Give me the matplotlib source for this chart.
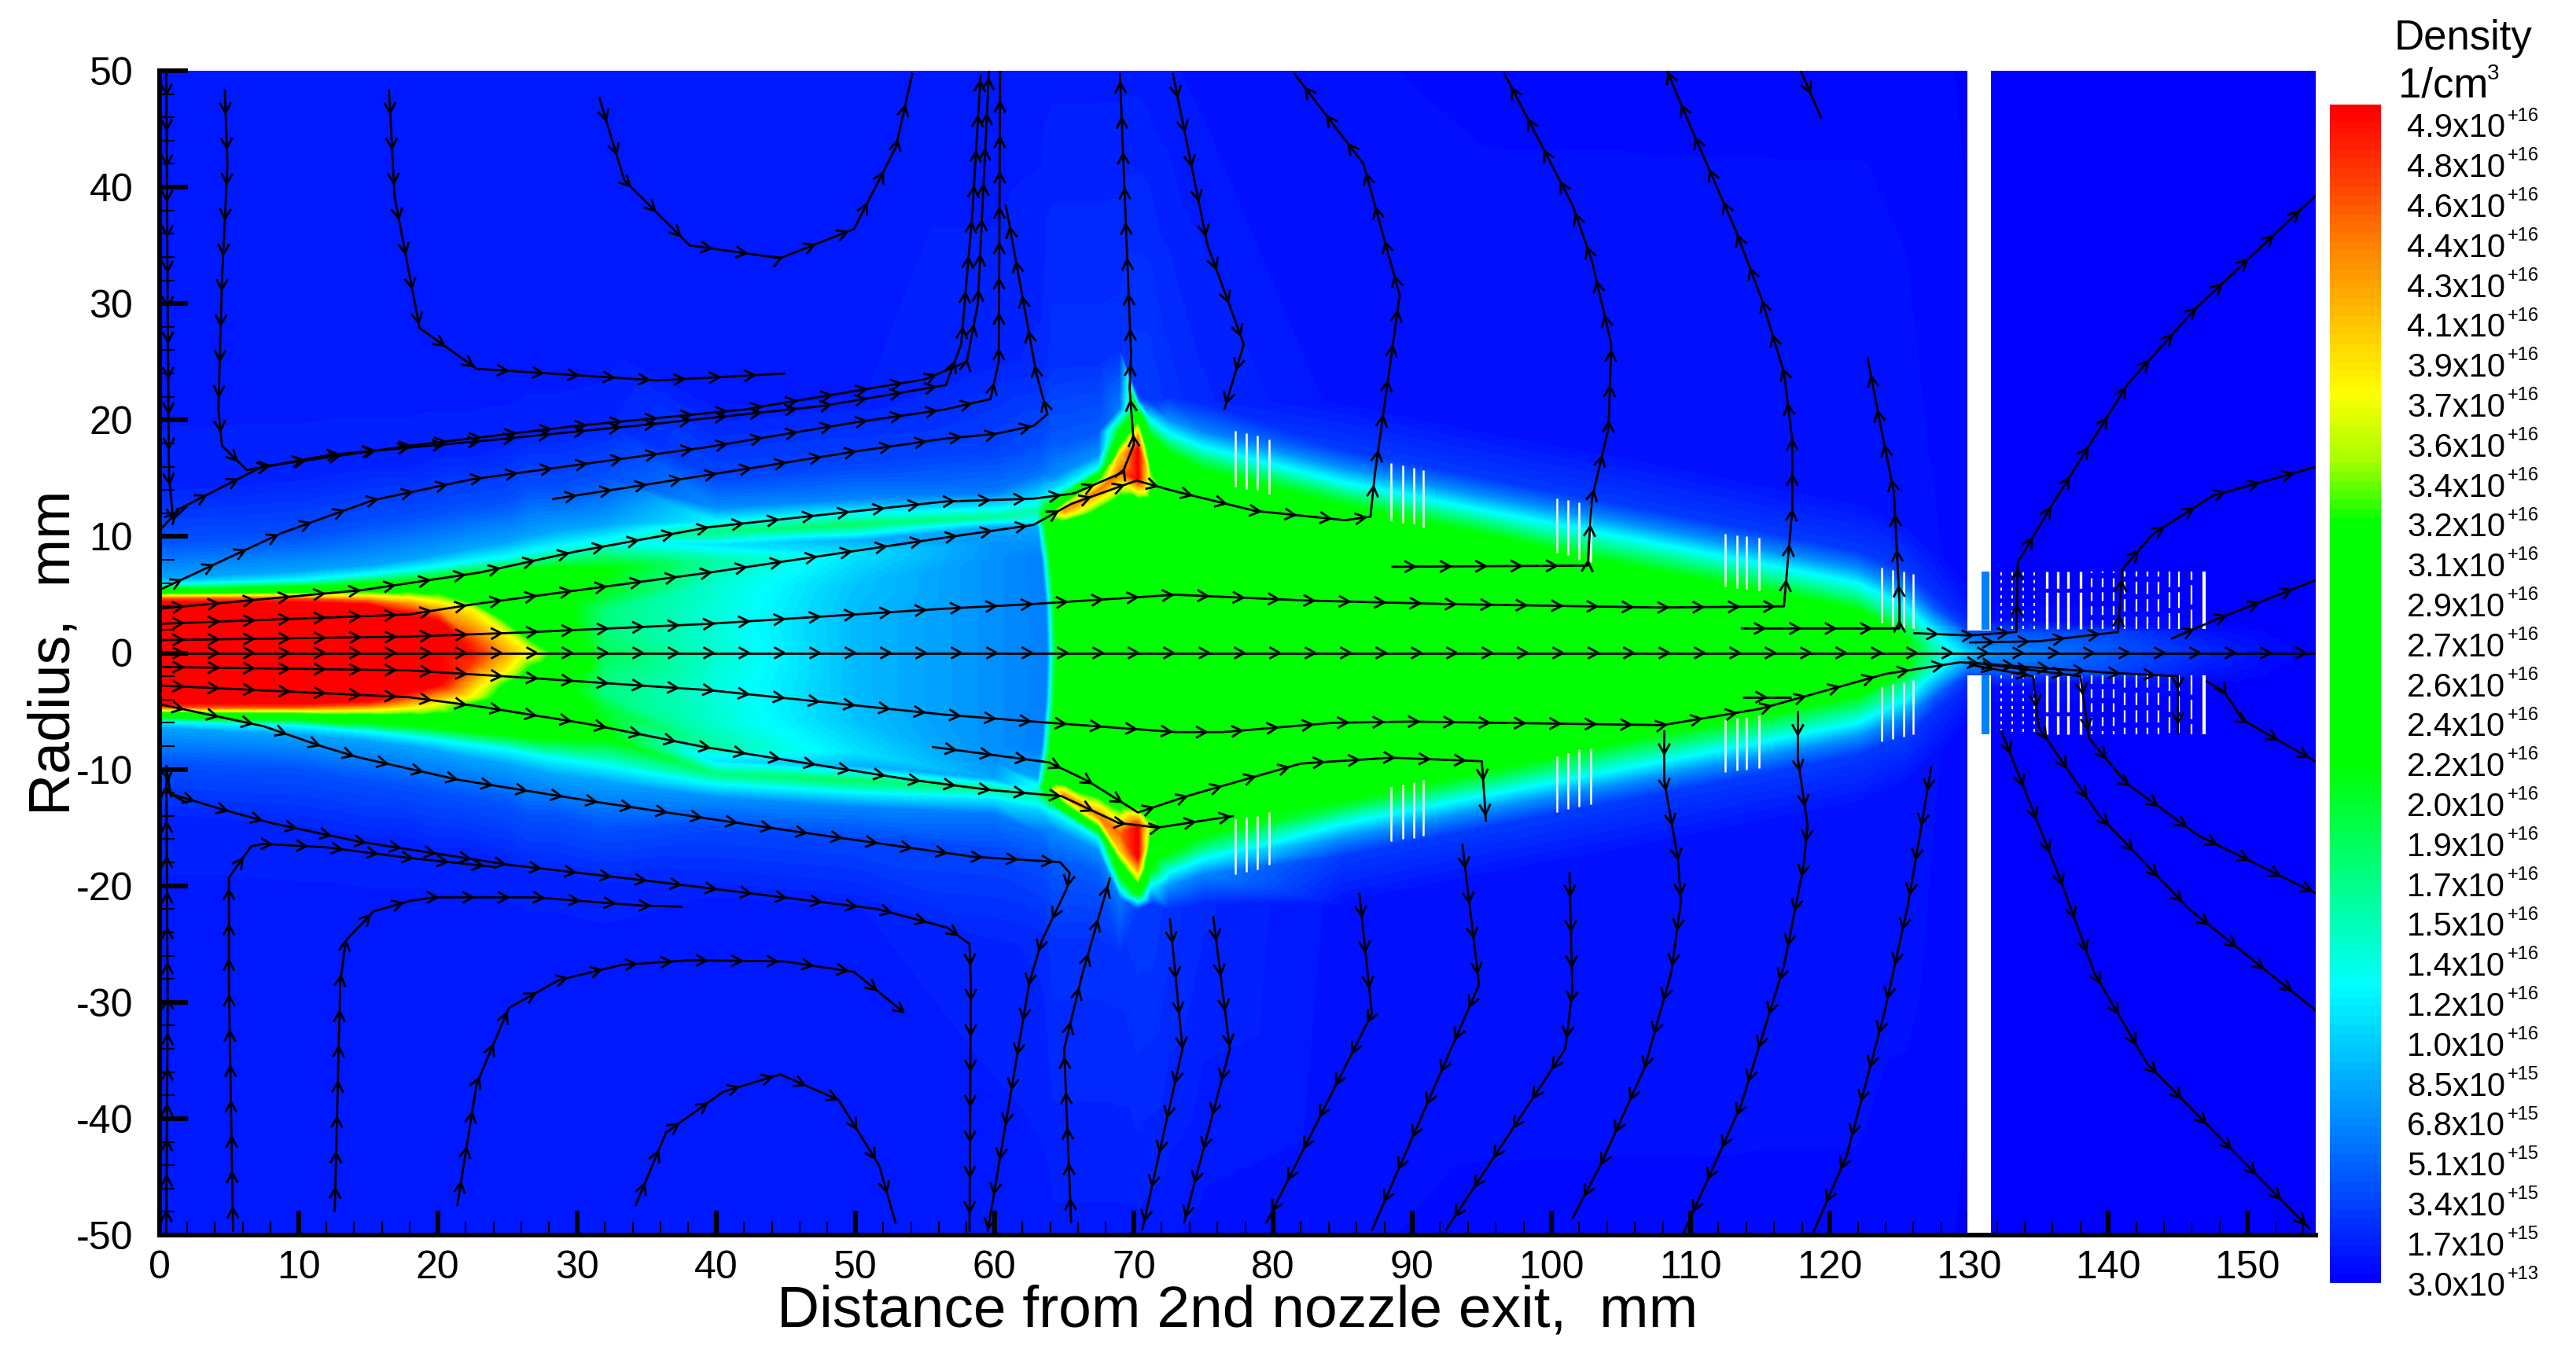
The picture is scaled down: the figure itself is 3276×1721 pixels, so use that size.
import matplotlib
matplotlib.use('Agg')
import matplotlib.pyplot as plt
from matplotlib.collections import LineCollection
from matplotlib.colors import LinearSegmentedColormap
from matplotlib.tri import Triangulation
import numpy as np

plt.rcParams['font.family'] = ['Liberation Sans', 'DejaVu Sans']
plt.rcParams['axes.unicode_minus'] = False

W, H = 3276, 1721

# colour scale (fraction of 4.9e16, colour)
cmap_stops = [(0.0, (0, 0, 255)), (0.25, (0, 255, 255)), (0.345, (0, 255, 128)),
              (0.441, (0, 255, 0)), (0.645, (0, 255, 0)), (0.70, (170, 255, 0)),
              (0.757, (255, 255, 0)), (0.885, (255, 128, 0)), (0.936, (255, 64, 0)),
              (1.0, (255, 0, 0))]

# density field, upper half: axial stations (mm), then for each station the
# radius of the nodes (mm) and the density at them (1e16 1/cm3)
stations = [0, 10, 15, 18, 20, 22.4, 25, 26.6, 28.5, 32, 40, 50, 60, 63.4, 64.2, 65,
            67.5, 69, 70.3, 71.2, 72.5, 75, 85, 95, 105, 115, 122, 125.5, 127.5,
            129.9, 131.6, 140, 147, 152, 155]
node_r = [
    [0, 4.3, 4.65, 4.9, 5.2, 5.9, 6.4, 9.5, 14, 25, 50],
    [0, 4.3, 4.65, 4.95, 5.3, 6.2, 7, 10, 15, 25, 50],
    [0, 4.1, 4.5, 4.9, 5.5, 6.7, 7.5, 11, 16, 25, 50],
    [0, 3.3, 4.2, 4.7, 5.6, 7.1, 8, 11.5, 16, 25, 50],
    [0, 2.7, 3.8, 4.6, 5.9, 7.4, 8.4, 12, 17, 25, 50],
    [0, 1, 3.7, 4.5, 6.3, 7.8, 9, 12.5, 17, 25, 50],
    [0, 1.5, 2.8, 4, 6.5, 8.2, 9.5, 13, 18, 25, 50],
    [0, 1, 2.5, 4.5, 6.8, 8.6, 10, 14, 19, 26, 50],
    [0, 1.5, 3, 5, 7, 9, 10.5, 14, 19, 26, 50],
    [0, 2, 3.5, 5, 7.2, 9.6, 11, 15, 20, 27, 50],
    [0, 3, 6, 8, 9.3, 10.4, 11.3, 12.4, 15, 21, 50],
    [0, 3, 6, 8.5, 9.7, 11, 12, 13.2, 16, 22, 50],
    [0, 4, 8, 9.5, 10.8, 11.7, 12.6, 13.8, 17, 25, 50],
    [0, 4, 8, 10.8, 11.5, 12.3, 13.5, 15.5, 18, 25, 50],
    [0, 4, 8, 10.8, 11.5, 12.5, 13.5, 15, 18, 25, 50],
    [0, 4, 8, 11, 12.2, 13, 14, 15.5, 18, 25, 50],
    [0, 4, 8, 12, 14, 15, 15.8, 17, 19, 25, 50],
    [0, 4, 8, 13, 15.5, 17, 18, 19, 21, 26, 50],
    [0, 4, 8, 13, 15, 17.5, 18.5, 19.5, 20.5, 22, 50],
    [0, 4, 8, 13, 14.9, 16, 17, 18.5, 20, 21.5, 50],
    [0, 4, 8, 12, 14, 16, 17.5, 18.8, 20, 22, 50],
    [0, 4, 8, 12, 14, 15.5, 16.5, 17.6, 19, 21.5, 50],
    [0, 4.4, 8.8, 11.3, 12.5, 13.3, 14.6, 15.9, 17.4, 21.6, 50],
    [0, 3.7, 7.3, 8.8, 10, 10.8, 12.2, 13.5, 15, 19.2, 50],
    [0, 2.5, 5, 6.2, 7.4, 8.2, 9.9, 11.2, 12.7, 17, 50],
    [0, 1.5, 3, 4, 5.2, 6, 7.6, 8.9, 10.4, 14.6, 50],
    [0, 1, 2, 2.8, 3.6, 4.2, 5.9, 7.2, 8.7, 13, 50],
    [0, 0.6, 1.2, 1.7, 2.1, 2.4, 4, 5.3, 7, 11, 50],
    [0, 0.4, 0.8, 1.2, 1.6, 2, 2.8, 3.8, 5, 9, 50],
    [0, 0.2, 0.4, 0.7, 1, 1.3, 1.6, 2, 3, 6, 50],
    [0, 0.2, 0.4, 0.7, 1, 1.3, 1.6, 2, 3, 6, 50],
    [0, 0.3, 0.6, 0.9, 1.2, 1.5, 1.8, 2.1, 2.5, 6, 50],
    [0, 0.3, 0.6, 0.9, 1.2, 1.5, 1.8, 2.1, 2.5, 6, 50],
    [0, 0.3, 0.6, 0.9, 1.2, 1.5, 1.8, 2.1, 2.5, 6, 50],
    [0, 0.3, 0.6, 0.9, 1.2, 1.5, 1.8, 2.1, 2.5, 6, 50],
]
node_n = [
    [4.9, 4.9, 4.5, 3.7, 2.8, 1.2, 0.8, 0.4, 0.18, 0.12, 0.12],
    [4.9, 4.9, 4.5, 3.7, 2.8, 1.25, 0.8, 0.4, 0.18, 0.12, 0.12],
    [4.9, 4.9, 4.4, 3.7, 2.7, 1.25, 0.8, 0.4, 0.18, 0.12, 0.12],
    [4.9, 4.9, 4.2, 3.7, 2.7, 1.25, 0.8, 0.4, 0.18, 0.12, 0.12],
    [4.9, 4.9, 4.1, 3.5, 2.6, 1.25, 0.8, 0.4, 0.18, 0.12, 0.12],
    [4.8, 4.6, 3.7, 3.0, 2.5, 1.25, 0.8, 0.4, 0.18, 0.12, 0.12],
    [4.1, 3.7, 3.0, 2.7, 2.5, 1.25, 0.8, 0.4, 0.18, 0.12, 0.12],
    [3.7, 3.2, 2.7, 2.5, 2.4, 1.25, 0.8, 0.4, 0.18, 0.12, 0.12],
    [3.0, 2.6, 2.4, 2.4, 2.3, 1.25, 0.8, 0.4, 0.18, 0.12, 0.12],
    [1.85, 1.7, 1.7, 2.0, 2.2, 1.25, 0.8, 0.4, 0.18, 0.12, 0.12],
    [1.4, 1.35, 1.4, 1.55, 1.1, 1.7, 1.2, 0.7, 0.35, 0.15, 0.12],
    [0.9, 0.9, 0.95, 1.1, 0.85, 1.8, 1.2, 0.65, 0.35, 0.15, 0.12],
    [0.7, 0.7, 0.7, 0.72, 0.8, 1.6, 1.1, 0.6, 0.35, 0.18, 0.12],
    [0.62, 0.62, 0.62, 0.8, 1.3, 1.5, 1.0, 0.55, 0.38, 0.2, 0.13],
    [2.6, 2.6, 2.6, 2.6, 3.0, 2.2, 1.2, 0.7, 0.45, 0.25, 0.14],
    [2.7, 2.7, 2.7, 2.7, 4.2, 3.0, 1.3, 0.7, 0.45, 0.25, 0.14],
    [2.7, 2.7, 2.7, 2.8, 4.3, 3.0, 1.3, 0.7, 0.45, 0.25, 0.14],
    [2.7, 2.7, 2.7, 2.8, 4.4, 3.9, 3.0, 2.2, 0.6, 0.25, 0.14],
    [2.7, 2.7, 2.7, 2.8, 4.9, 4.9, 4.2, 3.4, 2.4, 0.3, 0.14],
    [2.7, 2.7, 2.7, 2.75, 3.4, 3.0, 2.6, 2.2, 1.2, 0.3, 0.13],
    [2.7, 2.7, 2.7, 2.7, 2.7, 2.5, 2.0, 1.25, 0.7, 0.25, 0.12],
    [2.75, 2.75, 2.75, 2.7, 2.4, 2.2, 1.8, 1.25, 0.65, 0.2, 0.1],
    [2.8, 2.8, 2.8, 2.5, 2.2, 1.9, 1.25, 0.7, 0.3, 0.1, 0.08],
    [2.8, 2.8, 2.8, 2.5, 2.2, 1.9, 1.25, 0.7, 0.3, 0.1, 0.07],
    [2.8, 2.8, 2.8, 2.5, 2.2, 1.9, 1.25, 0.7, 0.3, 0.1, 0.07],
    [2.8, 2.8, 2.8, 2.5, 2.2, 1.9, 1.25, 0.7, 0.3, 0.1, 0.07],
    [2.6, 2.6, 2.6, 2.4, 2.2, 1.9, 1.25, 0.7, 0.3, 0.1, 0.07],
    [2.2, 2.2, 2.1, 2.0, 1.9, 1.7, 1.2, 0.7, 0.3, 0.1, 0.06],
    [1.5, 1.5, 1.4, 1.35, 1.25, 1.1, 0.8, 0.45, 0.25, 0.08, 0.05],
    [1.0, 1.0, 0.9, 0.8, 0.7, 0.6, 0.5, 0.3, 0.18, 0.06, 0.03],
    [0.7, 0.7, 0.65, 0.6, 0.55, 0.5, 0.45, 0.3, 0.05, 0.02, 0.02],
    [0.42, 0.42, 0.42, 0.4, 0.38, 0.36, 0.34, 0.18, 0.05, 0.02, 0.02],
    [0.2, 0.2, 0.18, 0.16, 0.14, 0.12, 0.1, 0.06, 0.04, 0.02, 0.02],
    [0.05, 0.05, 0.05, 0.04, 0.04, 0.03, 0.03, 0.02, 0.02, 0.02, 0.02],
    [0.02, 0.02, 0.02, 0.02, 0.02, 0.02, 0.02, 0.02, 0.02, 0.02, 0.02],
]
# the shock front bows out on the axis: x offset per node at stations 63.4 and 64.2
front_lean = [0.4, 0.3, 0, -0.3, -0.3, -0.3, -0.3, 0, 0, 0, 0]

# streamlines as (distance, radius) in mm, in flow direction
streamlines = [
    [(0.5, 50), (0.6, 30), (0.7, 15), (1, 11.5), (2, 12.6)],
    [(4.7, 48.4), (4.9, 42), (4.5, 32), (4.25, 20.9), (4.5, 17.8), (6.3, 15.7), (12.2, 17), (24, 18.3),
     (35.8, 19.7), (47.6, 21.2), (56.5, 23), (57.6, 26.5), (58.4, 37.7), (59, 49.7)],
    [(0, 10.5), (1.5, 12.4), (7.4, 16), (18, 17.8), (30, 19.5), (42, 20.9), (55, 23.5), (58, 25), (58.8, 30),
     (59.6, 50)],
    [(0, 5.4), (8.8, 10.3), (15.3, 13.1), (22.4, 14.9), (39.5, 17.7), (50, 19.8), (56.4, 20.9), (59.7, 21.8),
     (60.3, 25), (60.4, 50)],
    [(28.2, 13.2), (39.5, 15.3), (50, 17.3), (56.4, 18.4), (60, 18.8), (62.8, 19.5), (63.8, 20.5), (63, 24),
     (60.8, 38.5)],
    [(0, 3.8), (14.6, 5.4), (23, 6.9), (29.9, 8.7), (39.5, 10.8), (56.4, 13), (62.8, 13.25), (65.7, 13.7),
     (69.2, 15.5), (70, 17.9), (69.7, 22.7), (69.8, 25.7), (69, 49.8)],
    [(0, 2.5), (17.9, 3.3), (22.7, 4.2), (30.8, 5.5), (39.5, 6.9), (56.4, 9.9), (62.8, 11), (65.5, 12.8),
     (70.2, 14.8), (72.9, 13.9), (78.7, 12.2), (85.2, 11.4), (87, 11.7), (87.3, 15.2), (89.1, 30.7),
     (86.5, 42), (81.5, 49.8)],
    [(0, 1.1), (17.9, 1.4), (26, 1.75), (39.5, 2.5), (56.4, 3.8), (62.8, 4.2), (73, 5), (82.4, 4.5),
     (92.4, 4.2), (107.7, 3.9), (116.7, 4), (117.3, 12.3), (117.3, 18.3), (116.7, 24.1), (115.1, 30.4),
     (113.2, 36.4), (110.1, 44.9), (108.3, 50)],
    [(0, 0), (155, 0)],
    [(88.5, 7.4), (102.6, 7.5), (102.9, 13.2), (104.1, 19.3), (104.3, 26.5), (102.9, 33.7), (101.5, 38.5),
     (96.6, 49.8)],
    [(113.6, 2.1), (125, 2.1), (125, 4.3), (124.6, 13.8), (123.6, 19.8), (122.7, 25.4)],
    [(72.8, 49.8), (75.3, 35), (77.9, 26.5), (76.5, 20.9)],
    [(117.9, 50), (119.4, 45.9)],
    [(16.5, 48.4), (16.9, 39.2), (18.7, 27.9), (22.8, 24.4), (35.8, 23.4), (45, 24)],
    [(31.6, 47.7), (33.4, 40.6), (38.1, 35), (44.6, 33.9), (49.9, 36.4), (52.9, 43.4), (54.1, 49.8)],
    [(126, 1.7), (130, 1.5), (133.4, 1.8), (133.5, 7.8), (135.9, 12.6), (141.4, 23.1), (146.2, 29.5),
     (155, 39.4)],
    [(130, 0.9), (135, 1), (140.7, 1.8), (141, 7.2), (143.2, 10.2), (147.5, 13.5), (155, 16)],
    [(144.5, 1.2), (148, 3), (155, 6.3)],
    # lower half
    [(0.5, -50), (0.6, -30), (0.5, -9.7), (0.8, -12.1), (2, -12.9)],
    [(0, -1.2), (17.9, -1.5), (26, -2.1), (39.5, -3.2), (56.4, -5.3), (62.8, -5.9), (73, -6.8), (76.4, -6.8),
     (84.3, -6), (90, -5.9), (108, -6.2), (115, -4.8), (124, -1.8), (129.4, -0.8), (140, -1.7), (145, -2),
     (145, -7)],
    [(0, -2.8), (17.9, -3.8), (23, -4.6), (30.8, -6.1), (39.1, -8.07), (54, -10.9), (59.9, -11.8),
     (64.8, -12.3), (68.9, -14.6), (71.7, -15), (77.2, -14)],
    [(55.5, -8.07), (63.9, -9.4), (66.7, -11), (70.3, -13.7), (74.1, -12.2), (82, -9.5), (88.5, -9), (95, -9.3),
     (95.3, -14.5)],
    [(0, -4.4), (7.5, -6.3), (11.8, -8.07), (14.3, -8.97), (21.5, -10.9), (31.4, -12.8), (44.9, -15.2),
     (58.4, -17.5), (64.7, -17.97), (65.4, -18.9), (65.2, -20.2), (63.4, -24.7), (62.5, -28.3), (59.5, -49.7)],
    [(0.8, -12.1), (4.4, -13.4), (8, -14.6), (14.3, -16.2), (25.1, -18.2), (36, -19.7), (51.6, -22),
     (56.6, -23.6), (58.2, -25), (58.3, -28.3), (58.2, -49.7)],
    [(5.3, -49.7), (5, -28.3), (5, -19.3), (6.6, -16.6), (7.5, -16.4), (12, -16.7), (17.9, -17.6), (24.2, -18.4)],
    [(12.6, -48), (13, -28.3), (13.4, -24.7), (15.4, -22.2), (18, -21.3), (19.7, -21), (27, -21), (34.6, -21.7),
     (37.6, -21.8)],
    [(21.4, -47.5), (22.8, -37), (25.1, -30.5), (28.7, -28.1), (33.2, -26.8), (38.1, -26.4), (44.9, -26.5),
     (49.9, -27.4), (53.5, -30.9)],
    [(34.2, -47.5), (36.4, -41.2), (40.5, -37.7), (44.6, -36.2), (48.8, -38.4), (51.7, -44), (52.9, -49)],
    [(65.5, -49), (65, -34), (66.3, -27.6), (68.3, -19.3)],
    [(72.6, -22.8), (73.5, -34), (70.6, -49.6)],
    [(75.7, -22.6), (76.9, -34), (73.6, -49)],
    [(86.2, -20.6), (87.1, -31), (79.5, -49)],
    [(93.6, -16.4), (94.8, -28.5), (87.1, -49.6)],
    [(101.3, -18.8), (101.5, -29), (101, -34), (92.4, -49.6)],
    [(108.1, -6.65), (108.1, -10.9), (109.1, -17.8), (109.3, -21.4), (108.6, -27.5), (106.7, -35.6),
     (103.6, -43.8), (101.5, -48.6)],
    [(117.7, -5), (117.7, -9.1), (118.4, -14.8), (118.1, -18.4), (116.7, -26.9), (113.6, -38.9), (109.5, -49.8)],
    [(127.3, -9.7), (126.5, -15.4), (125.6, -21.7), (123.9, -31), (121.2, -43.2), (118.8, -49.8)],
    [(113.7, -3.8), (117.2, -3.8)],
    [(132.3, -6.65), (134.2, -12.4), (136.6, -19.6), (139, -27.5), (142.8, -35.3), (154.5, -49.5)],
    [(130, -1), (134.6, -2), (135, -6.4), (139.3, -13.9), (145.8, -22), (155, -30.8)],
    [(130, -0.8), (138, -2), (138.6, -7.3), (141.3, -11.2), (146.5, -15.7), (155, -20.7)],
    [(147, -2.4), (148.3, -3.3), (149.7, -5.8), (155, -9.4)],
]

# white blanked cell lines: (x, r inner, r outer), upper and lower side
white_upper = [(77.3, 14.3, 19.1), (78.1, 14.1, 18.9), (78.9, 14, 18.7), (79.7, 13.7, 18.3),
               (88.5, 11.4, 16.3), (89.3, 11.2, 16.1), (90.1, 11.1, 15.9), (90.8, 10.8, 15.7),
               (100.4, 8.6, 13.25), (101.2, 8.4, 13.1), (102, 8, 12.9), (102.8, 7.8, 12.7),
               (112.5, 5.7, 10.2), (113.3, 5.6, 10.1), (114, 5.5, 10), (114.9, 5.4, 9.9),
               (123.7, 2.6, 7.3), (124.5, 2.3, 7.1), (125.3, 2.2, 7), (126, 2.1, 6.8)]
white_lower = [(77.3, -14.3, -19), (78.1, -14.1, -18.8), (78.9, -14, -18.6), (79.7, -13.7, -18.2),
               (88.5, -11.5, -16.2), (89.3, -11.3, -16), (90.1, -11.1, -15.9), (90.8, -10.9, -15.7),
               (100.4, -8.9, -13.7), (101.2, -8.6, -13.4), (102, -8.3, -13.2), (102.8, -8.2, -13),
               (112.5, -5.7, -10.2), (113.3, -5.6, -10.1), (114, -5.5, -10), (114.9, -5.4, -9.9),
               (123.7, -2.9, -7.6), (124.5, -2.7, -7.4), (125.3, -2.5, -7.2), (126, -2.3, -7)]
dash_x = [132.3, 133.1, 133.9, 134.7, 135.6, 136.4, 137.1, 138, 138.8, 139.6, 140.4, 141.2, 142, 142.8,
          143.6, 144.4, 145.1, 146, 146.9]
dash_on = [2, 2, 2, 2, 14, 14, 14, 14, 5, 5, 5, 7, 7, 7, 7, 9, 9, 11, 40]
dash_off = [3, 3, 3, 3, 1.5, 1.5, 1.5, 1.5, 3, 3, 3, 3, 3, 3, 3, 3, 3, 3, 0.1]
dash_w = [1.4, 1.4, 1.4, 1.4, 2.4, 2.4, 2.4, 2.4, 1.6, 1.6, 1.6, 1.6, 1.6, 1.6, 1.6, 1.6, 1.6, 1.6, 3.0]

bar_mant = ['4.9', '4.8', '4.6', '4.4', '4.3', '4.1', '3.9', '3.7', '3.6', '3.4', '3.2', '3.1', '2.9',
            '2.7', '2.6', '2.4', '2.2', '2.0', '1.9', '1.7', '1.5', '1.4', '1.2', '1.0', '8.5', '6.8',
            '5.1', '3.4', '1.7', '3.0']
bar_exp = ['+16'] * 24 + ['+15'] * 5 + ['+13']

cmap = LinearSegmentedColormap.from_list(
    'density', [(f, tuple(c / 255 for c in rgb)) for f, rgb in cmap_stops], N=128)

fig = plt.figure(figsize=(W / 100, H / 100), dpi=100)
ax = fig.add_axes([202.6 / W, 150 / H, (2945 - 202.6) / W, (1571 - 90) / H])
ax.set_xlim(0, 154.9)
ax.set_ylim(-50, 50)

# mirror the upper half nodes to get the full mesh
r_top = np.array(node_r, dtype=float)
n_top = np.array(node_n, dtype=float)
lean = np.array(front_lean)
yy = np.hstack([-r_top[:, :0:-1], r_top])
nn = np.hstack([n_top[:, :0:-1], n_top])
ll = np.r_[lean[:0:-1], lean]
xx = np.tile(np.array(stations, dtype=float)[:, None], (1, yy.shape[1]))
for st in (63.4, 64.2):
    xx[stations.index(st)] += ll

# flood it on the mesh's own triangles so colours follow the value, not RGB
nst, nrow = xx.shape
tris = []
for i in range(nst - 1):
    for j in range(nrow - 1):
        a = i * nrow + j
        tris.append((a, a + nrow, a + 1))
        tris.append((a + 1, a + nrow, a + nrow + 1))
tri = Triangulation(xx.ravel(), yy.ravel(), tris)
ax.tricontourf(tri, nn.ravel(), levels=np.linspace(0, 4.88, 129), cmap=cmap, extend='both',
               antialiased=False, zorder=1)

# blanked slot at 130 mm with the lighter strip inside it
for r0, r1 in [(1.9, 50), (-50, -1.9)]:
    ax.fill_between([129.9, 131.6], r0, r1, color='white', lw=0, zorder=2)
for r0, r1 in [(2, 7), (-7, -1.9)]:
    ax.fill_between([130.9, 131.45], r0, r1, color='#0082ff', lw=0, zorder=2)

for x, r0, r1 in white_upper + white_lower:
    ax.plot([x, x], [r0, r1], color='white', lw=1.8, solid_capstyle='butt', zorder=3)
for x, on, off, w in zip(dash_x, dash_on, dash_off, dash_w):
    for r0, r1 in [(2.05, 7), (-1.9, -7)]:
        ax.plot([x, x], [r0, r1], color='white', lw=w, dashes=(on, off), dash_capstyle='butt', zorder=3)

# streamlines with open arrow heads every 45 px
sx = ax.transData.transform((1, 0))[0] - ax.transData.transform((0, 0))[0]
sy = ax.transData.transform((0, 1))[1] - ax.transData.transform((0, 0))[1]
barbs = []
for line in streamlines:
    pts = np.array(line, dtype=float)
    ax.plot(pts[:, 0], pts[:, 1], color='black', lw=2.0, zorder=4, solid_capstyle='butt')
    seg = np.hypot(np.diff(pts[:, 0]) * sx, np.diff(pts[:, 1]) * sy)
    s = np.r_[0, np.cumsum(seg)]
    for d in np.arange(30, s[-1], 45):
        px = np.interp(d, s, pts[:, 0]) * sx
        py = np.interp(d, s, pts[:, 1]) * sy
        i = min(np.searchsorted(s, d), len(seg)) - 1
        ang = np.arctan2((pts[i + 1, 1] - pts[i, 1]) * sy, (pts[i + 1, 0] - pts[i, 0]) * sx)
        for turn in (np.pi - 0.5, np.pi + 0.5):
            ex = px + 15 * np.cos(ang + turn)
            ey = py + 15 * np.sin(ang + turn)
            barbs.append([(ex / sx, ey / sy), (px / sx, py / sy)])
ax.add_collection(LineCollection(barbs, colors='black', linewidths=2.0, zorder=4))

for side in ['top', 'right']:
    ax.spines[side].set_visible(False)
for side in ['left', 'bottom']:
    ax.spines[side].set_linewidth(4.3)
    ax.spines[side].set_zorder(6)
ax.set_xticks(np.arange(0, 151, 10))
ax.set_yticks(np.arange(-50, 51, 10))
ax.set_xticks(np.arange(0, 155, 2), minor=True)
ax.set_yticks(np.arange(-50, 51, 2), minor=True)
ax.tick_params(axis='x', which='major', direction='in', length=22, width=4.3, pad=14, labelsize=36, zorder=6)
ax.tick_params(axis='x', which='minor', direction='in', length=12, width=1.5)
ax.tick_params(axis='y', which='major', direction='in', length=26, width=4.3, pad=24, labelsize=36)
ax.tick_params(axis='y', which='minor', direction='in', length=14, width=1.5)
ax.set_xlabel('Distance from 2nd nozzle exit,  mm', fontsize=54, labelpad=-2)
ax.set_ylabel('Radius,  mm', fontsize=53, labelpad=-5)

# colour bar and its hand placed label column
cax = fig.add_axes([2962.7 / W, (H - 1632) / H, (3027 - 2962.7) / W, (1632 - 133) / H])
cax.imshow(np.linspace(1, 0, 128)[:, None], aspect='auto', cmap=cmap, vmin=0, vmax=1, interpolation='nearest')
cax.axis('off')

for i, (m, e) in enumerate(zip(bar_mant, bar_exp)):
    y = 1 - (163.5 + i * 50.8) / H
    fig.text(3186 / W, y, m + 'x10', ha='right', va='center', fontsize=30)
    fig.text(3229 / W, y + 16 / H, e, ha='right', va='center', fontsize=17)
fig.text(3045 / W, 1 - 49 / H, 'Density', ha='left', va='center', fontsize=38)
fig.text(3050 / W, 1 - 109 / H, '1/cm', ha='left', va='center', fontsize=38)
fig.text(3163 / W, 1 - 94 / H, '3', ha='left', va='center', fontsize=20)

fig.savefig('out.png', dpi=100)
